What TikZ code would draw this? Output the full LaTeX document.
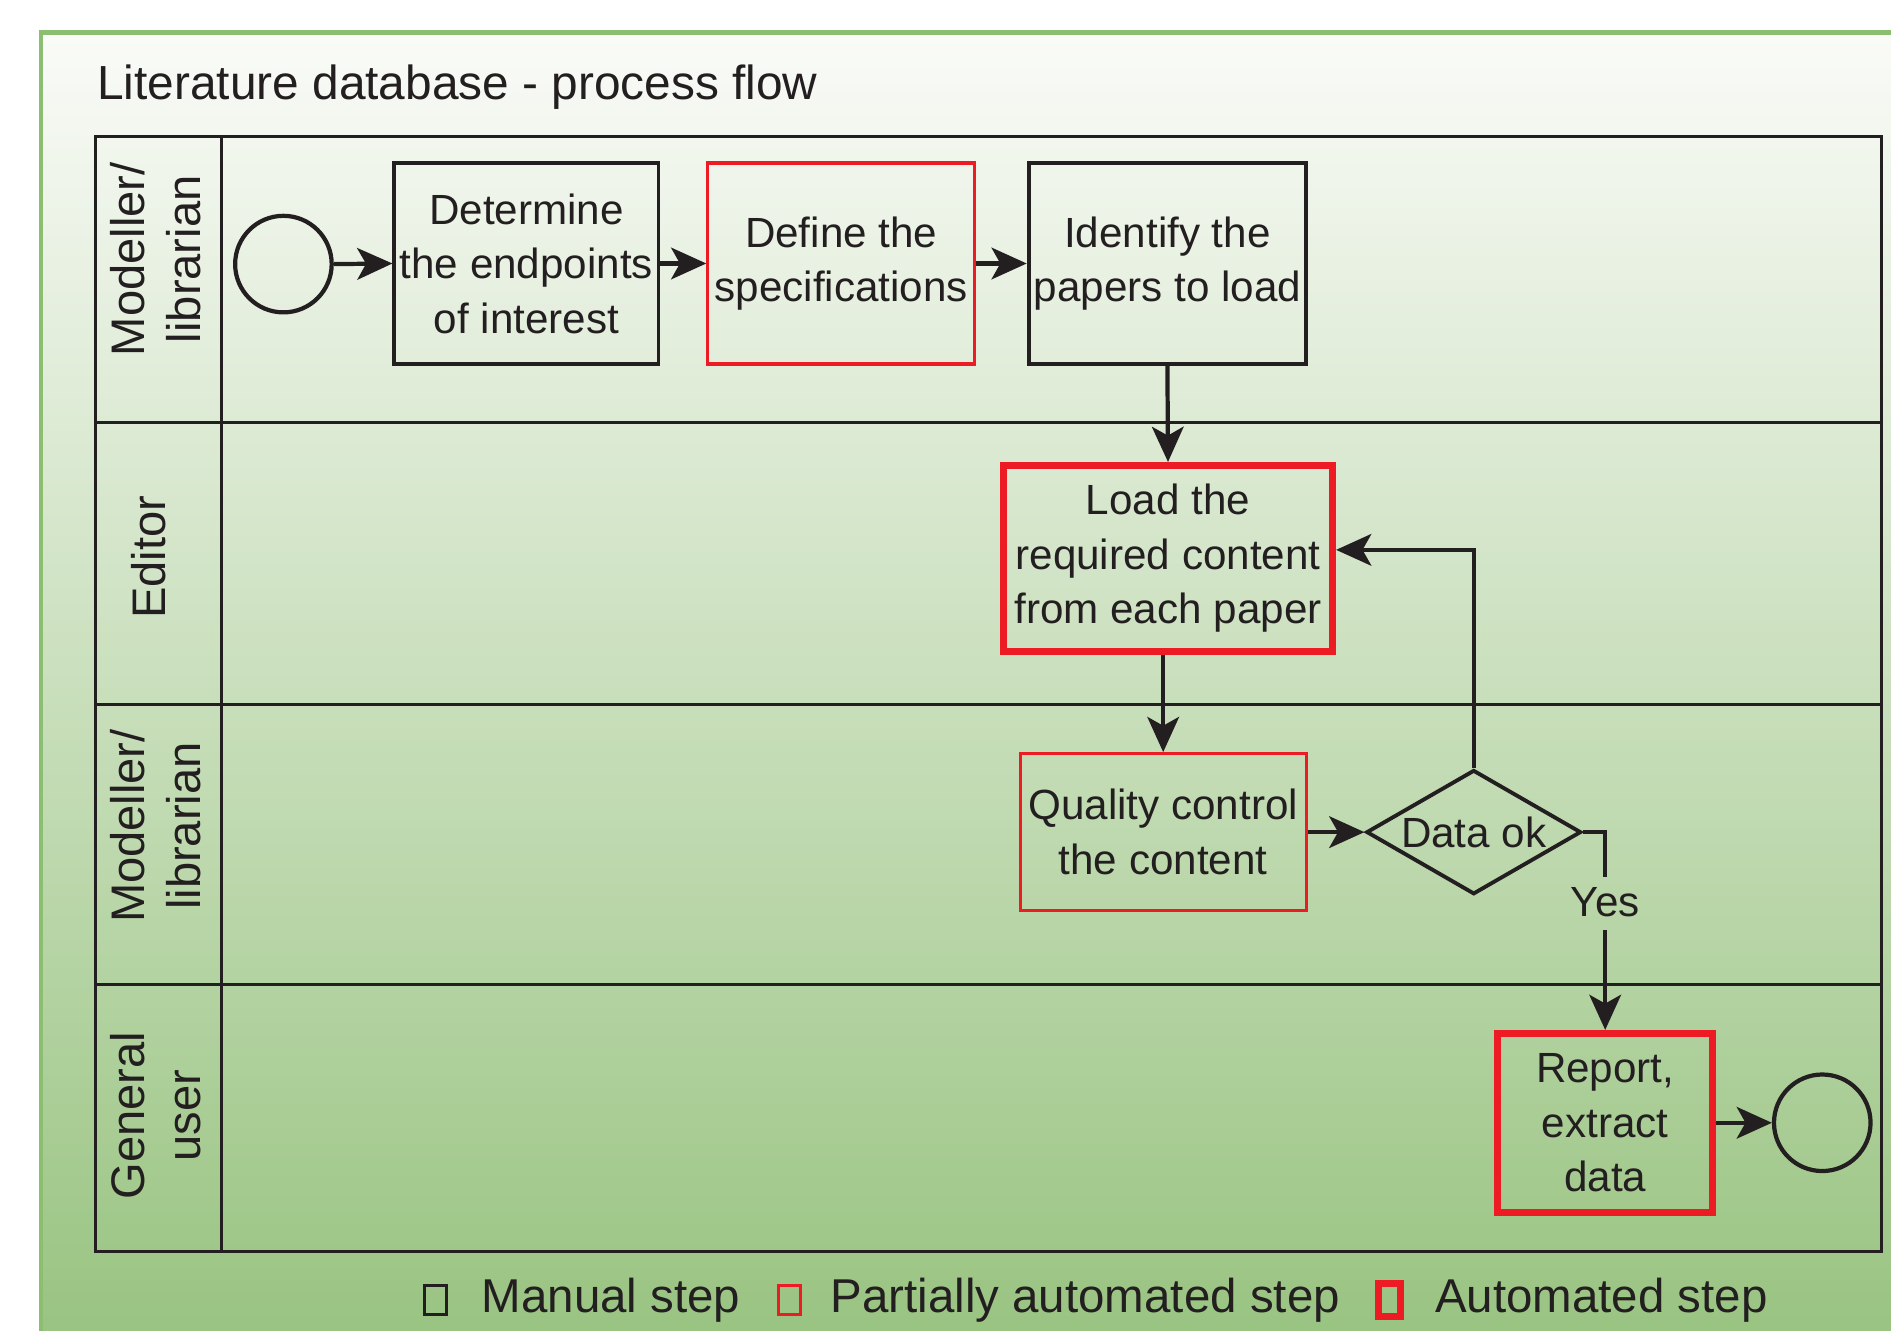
\documentclass[tikz,border=0pt]{standalone}
\usepackage{fontspec}
\setmainfont{Liberation Sans}
\usetikzlibrary{shapes.geometric,arrows.meta,positioning,calc}
\definecolor{FlowRed}{HTML}{ED1C24}
\definecolor{FlowInk}{HTML}{231F20}
\definecolor{PanelGreen}{HTML}{8CBE72}
\definecolor{PanelTop}{HTML}{FAFBF8}
\definecolor{PanelBottom}{HTML}{98C380}

\begin{document}
\begin{tikzpicture}[
    x=0.01206cm, y=-0.01206cm,
    font=\fontsize{12}{15.5}\selectfont, text=FlowInk,
    stepbox/.style={draw=FlowInk, line width=1.1pt, align=center, inner sep=0pt},
    manualstep/.style={stepbox},
    partstep/.style={stepbox, draw=FlowRed, line width=0.9pt},
    autostep/.style={stepbox, draw=FlowRed, line width=2pt},
    lanelabel/.style={rotate=90, align=center, inner sep=0pt, font=\fontsize{13.4}{16}\selectfont},
    flowarrow/.style={-{Stealth[length=10pt,width=9pt,inset=2.5pt]}, line width=1.2pt, draw=FlowInk},
    eventcircle/.style={circle, draw=FlowInk, line width=1.2pt, minimum size=0.965cm, inner sep=0pt}
]

  \useasboundingbox (0,0) rectangle (1568,1103);
  \clip (0,0) rectangle (1568,1103);

  % Painel de fundo
  \shade[top color=PanelTop, bottom color=PanelBottom] (34,27) rectangle (1590,1120);
  \draw[PanelGreen, line width=1.3pt] (34,1120) -- (34,27) -- (1590,27);

  \node[anchor=west, inner sep=0pt, font=\fontsize{13.6}{16}\selectfont] (title) at (80,72) {Literature database - process flow};

  % =========================================================================
  % RAIAS
  % =========================================================================
  \draw[FlowInk, line width=0.9pt] (79,113) rectangle (1560,1038);
  \draw[FlowInk, line width=0.9pt] (184,113) -- (184,1038);
  \foreach \y in {350,584,816}
    \draw[FlowInk, line width=0.9pt] (79,\y) -- (1560,\y);

  \node[lanelabel] (lane_modeller_a) at (129,215) {Modeller/\\librarian};
  \node[lanelabel] (lane_editor) at (123,462) {Editor};
  \node[lanelabel] (lane_modeller_b) at (129,685) {Modeller/\\librarian};
  \node[lanelabel] (lane_user) at (129,925) {General\\user};

  % =========================================================================
  % PASSOS
  % =========================================================================
  \node[eventcircle] (start) at (235,219) {};

  \node[manualstep, minimum width=2.64cm, minimum height=2.01cm] (step_endpoints) at (436.5,218.5) {
    Determine\\the endpoints\\of interest
  };

  \node[partstep, minimum width=2.665cm, minimum height=2.01cm] (step_specs) at (697.5,218.5) {
    Define the\\specifications
  };

  \node[manualstep, minimum width=2.774cm, minimum height=2.01cm] (step_papers) at (968,218.5) {
    \fontsize{12}{13.8}\selectfont Identify the\\papers to load
  };

  \node[autostep, minimum width=3.29cm, minimum height=1.857cm] (step_load) at (968.5,463) {
    \fontsize{12}{14}\selectfont Load the\\required content\\from each paper
  };

  \node[partstep, minimum width=2.858cm, minimum height=1.568cm] (step_quality) at (964.5,690) {
    Quality control\\the content
  };

  \node[diamond, draw=FlowInk, line width=1.1pt, inner sep=0pt, aspect=1.72, minimum width=2.147cm, minimum height=1.242cm] (data_ok) at (1222,690) {Data ok};

  \node[autostep, minimum width=2.147cm, minimum height=1.785cm] (step_report) at (1331,931) {
    \fontsize{12}{14.6}\selectfont Report,\\extract\\data
  };

  \node[eventcircle] (finish) at (1511,931) {};

  \node[inner sep=0pt] (yes_label) at (1331,748) {Yes};

  % Conectores
  \draw[flowarrow] (start.east) -- (step_endpoints.west);
  \draw[flowarrow] (step_endpoints.east) -- (step_specs.west);
  \draw[flowarrow] (step_specs.east) -- (step_papers.west);
  \draw[flowarrow] (step_papers.south) -- (step_load.north);
  \draw[flowarrow] (step_load.south -| step_quality.north) -- (step_quality.north);
  \draw[flowarrow] (step_quality.east) -- (data_ok.west);
  \draw[flowarrow] (data_ok.north) |- ([yshift=0.085cm]step_load.east);
  \draw[line width=1.2pt, FlowInk] (data_ok.east) -| ([yshift=0.1cm]yes_label.north);
  \draw[flowarrow] ([yshift=-0.12cm]yes_label.south) -- (step_report.north);
  \draw[flowarrow] (step_report.east) -- (finish.west);

  % =========================================================================
  % LEGENDA
  % =========================================================================
  \node[manualstep, line width=0.9pt, minimum width=0.22cm, minimum height=0.29cm] (key_manual) at (361,1078) {};
  \node[right=0.33cm of key_manual, inner sep=0pt, font=\fontsize{13.5}{16}\selectfont] (key_manual_text) {Manual step};

  \node[partstep, minimum width=0.22cm, minimum height=0.29cm] (key_part) at (654.5,1078) {};
  \node[right=0.28cm of key_part, inner sep=0pt, font=\fontsize{13.5}{16}\selectfont] (key_part_text) {Partially automated step};

  \node[autostep, minimum width=0.22cm, minimum height=0.33cm] (key_auto) at (1152.5,1078) {};
  \node[right=0.3cm of key_auto, inner sep=0pt, font=\fontsize{13.5}{16}\selectfont] (key_auto_text) {Automated step};

\end{tikzpicture}
\end{document}
